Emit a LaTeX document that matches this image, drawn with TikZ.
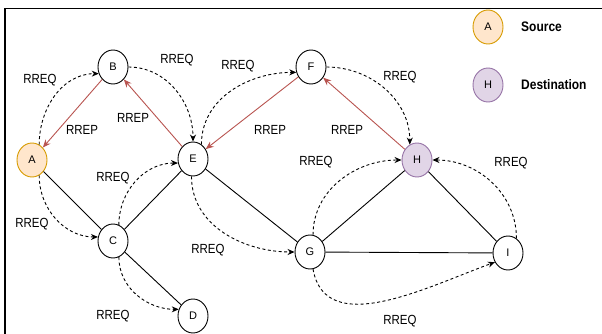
\documentclass[tikz,border=0pt]{standalone}
\usepackage{fontspec}
\setmainfont{Liberation Sans}
\usetikzlibrary{shapes.geometric,arrows.meta}
\definecolor{srcfill}{HTML}{FFE6CC}
\definecolor{srcdraw}{HTML}{D79B00}
\definecolor{dstfill}{HTML}{E1D5E7}
\definecolor{dstdraw}{HTML}{9673A6}
\definecolor{rrep}{HTML}{B85450}
\newcommand\vst[1]{\scalebox{1}[1.15]{#1}}
\tikzset{
  nd/.style={ellipse,draw=black,line width=0.9pt,fill=white,minimum width=30pt,minimum height=34pt,inner sep=0pt,font=\fontsize{11}{12}\selectfont},
  src/.style={nd,fill=srcfill,draw=srcdraw},
  dst/.style={nd,fill=dstfill,draw=dstdraw},
  lbl/.style={font=\fontsize{11.5}{13}\selectfont,inner sep=0pt},
  leg/.style={font=\fontsize{12}{14}\selectfont\bfseries,inner sep=0pt,anchor=west},
  req/.style={densely dashed,dash pattern=on 3pt off 2.5pt,line width=0.9pt,-{Stealth[length=7pt,width=6pt]}},
  rep/.style={draw=rrep,line width=0.9pt,-{Stealth[length=8pt,width=6.5pt]}},
  link/.style={line width=0.9pt},
}
\begin{document}
\begin{tikzpicture}[x=1pt,y=-1pt]
\useasboundingbox (0,0) rectangle (602,334);
\draw[line width=1.5pt] (5,334) -- (5,8.5) -- (602,8.5);
% nodes
\node[src] (A) at (32,160) {A};
\node[nd] (B) at (113,67) {B};
\node[nd] (C) at (113,241) {C};
\node[nd] (D) at (193,316) {D};
\node[nd] (E) at (193,159) {E};
\node[nd] (F) at (311,67) {F};
\node[nd] (G) at (310,252) {G};
\node[dst] (H) at (417,160) {H};
\node[nd] (I) at (508,253) {I};
% legend
\node[src] (LA) at (488,27) {A};
\node[dst] (LH) at (488,85) {H};
\node[leg] (LS) at (521,27) {\vst{Source}};
\node[leg] (LD) at (521,85) {\vst{Destination}};
% solid links
\draw[link] (A) -- (C);
\draw[link] (C) -- (E);
\draw[link] (C) -- (D);
\draw[link] (E) -- (G);
\draw[link] (G) -- (H);
\draw[link] (G) -- (I);
\draw[link] (H) -- (I);
% RREP
\draw[rep] (B) -- (A);
\draw[rep] (E) -- (B);
\draw[rep] (F) -- (E);
\draw[rep] (H) -- (F);
% RREQ
\draw[req] (A.65) to[out=90,in=180] (B.205);
\draw[req] (B.east) to[out=0,in=90] (E.north);
\draw[req] (E.60) to[out=90,in=180] (F.200);
\draw[req] (F.east) to[out=0,in=90] (H.115);
\draw[req] (A.-65) to[out=-90,in=180] (C.165);
\draw[req] (C.70) to[out=90,in=180] (E.195);
\draw[req] (C.-70) to[out=-90,in=180] (D.155);
\draw[req] (E.-95) to[out=-90,in=180] (G.west);
\draw[req] (G.80) to[out=90,in=180] (H.west);
\draw[req] (I.60) to[out=90,in=0] (H.east);
\draw[req] (G.-80) to[out=-80,in=-160] (I.215);
% labels
\node[lbl] (l1) at (40,80) {\vst{RREQ}};
\node[lbl] (l2) at (177,60) {\vst{RREQ}};
\node[lbl] (l3) at (238,66) {\vst{RREQ}};
\node[lbl] (l4) at (400,77) {\vst{RREQ}};
\node[lbl] (l5) at (32,224) {\vst{RREQ}};
\node[lbl] (l6) at (113,178) {\vst{RREQ}};
\node[lbl] (l7) at (113,316) {\vst{RREQ}};
\node[lbl] (l8) at (208,250) {\vst{RREQ}};
\node[lbl] (l9) at (316,162) {\vst{RREQ}};
\node[lbl] (l10) at (511,163) {\vst{RREQ}};
\node[lbl] (l11) at (400,321) {\vst{RREQ}};
\node[lbl] (p1) at (82,130) {\vst{RREP}};
\node[lbl] (p2) at (133,118) {\vst{RREP}};
\node[lbl] (p3) at (270,130) {\vst{RREP}};
\node[lbl] (p4) at (347,130) {\vst{RREP}};
\end{tikzpicture}
\end{document}
